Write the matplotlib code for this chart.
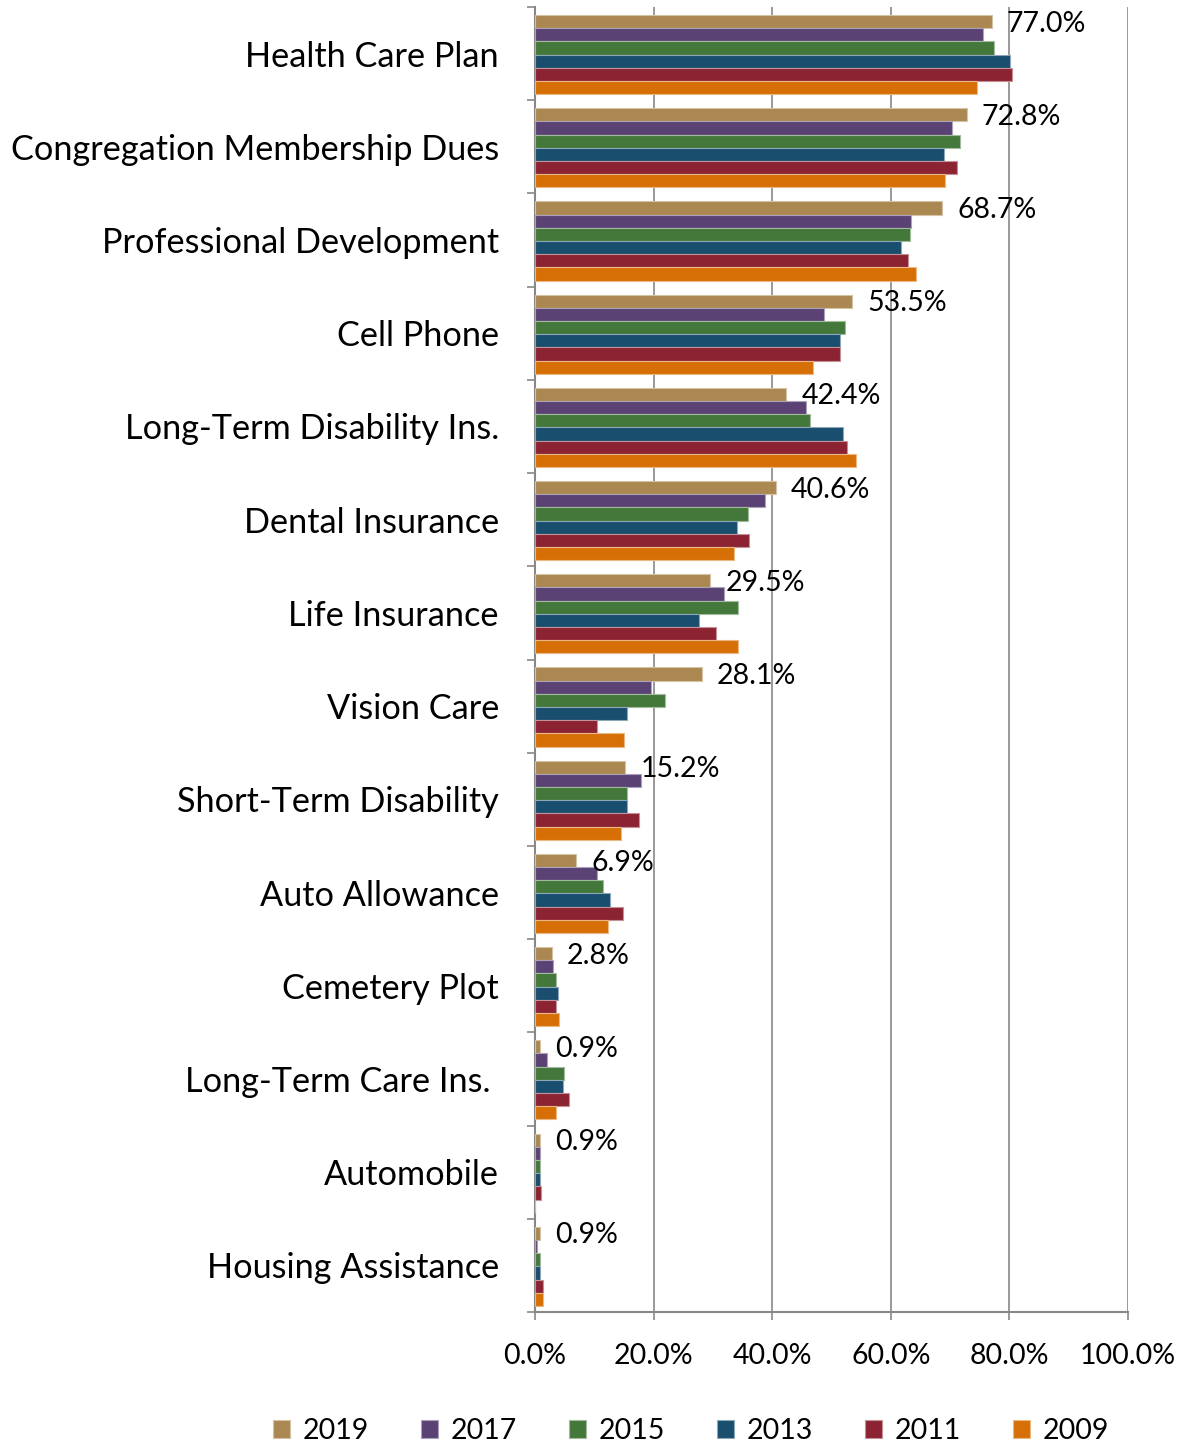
import matplotlib
matplotlib.use("Agg")
import matplotlib.pyplot as plt
import numpy as np
from matplotlib.colors import to_rgb

plt.rcParams['font.family'] = ['Lato', 'DejaVu Sans']

categories = ["Health Care Plan", "Congregation Membership Dues", "Professional Development",
              "Cell Phone", "Long-Term Disability Ins.", "Dental Insurance", "Life Insurance",
              "Vision Care", "Short-Term Disability", "Auto Allowance", "Cemetery Plot",
              "Long-Term Care Ins. ", "Automobile", "Housing Assistance"]
years = ["2019", "2017", "2015", "2013", "2011", "2009"]

v2019 = [77.0, 72.8, 68.7, 53.5, 42.4, 40.6, 29.5, 28.1, 15.2, 6.9, 2.8, 0.9, 0.9, 0.9]
v2017 = [75.6, 70.4, 63.4, 48.7, 45.7, 38.8, 31.8, 19.6, 17.9, 10.4, 3.0, 2.1, 0.8, 0.3]
v2015 = [77.4, 71.7, 63.2, 52.2, 46.4, 35.9, 34.2, 21.9, 15.5, 11.4, 3.6, 4.9, 0.8, 0.8]
v2013 = [80.1, 68.9, 61.7, 51.4, 52.0, 34.1, 27.7, 15.5, 15.5, 12.6, 3.9, 4.8, 0.9, 0.9]
v2011 = [80.5, 71.1, 62.9, 51.5, 52.6, 36.1, 30.5, 10.4, 17.5, 14.9, 3.6, 5.7, 1.0, 1.4]
v2009 = [74.5, 69.1, 64.2, 46.8, 54.2, 33.6, 34.2, 15.0, 14.5, 12.3, 4.1, 3.6, 0.0, 1.3]
series = [v2019, v2017, v2015, v2013, v2011, v2009]
colors = ['#AB8851', '#5A4374', '#44773A', '#194E6E', '#8B2332', '#D67006']

W, H = 1189, 1446
fig = plt.figure(figsize=(W / 100, H / 100), dpi=100)
ax = fig.add_axes([535 / W, 1 - 1312 / H, (1128 - 535) / W, (1312 - 7) / H])

n = len(categories)
y = np.arange(n)
h = 0.1416
grid_c = '#888888'
small = 20.5

for j, (vals, c) in enumerate(zip(series, colors)):
    rgb = np.array(to_rgb(c))
    edge = tuple(rgb * 0.5 + 0.5)
    ax.barh(y + (j - 2.5) * h + 0.01, vals, height=h, color=c, edgecolor=edge,
            linewidth=0.8, label=years[j], zorder=3)

for i, v in enumerate(v2019):
    ax.annotate(f"{v:.1f}%", (v, y[i] - 2.5 * h + 0.01), xytext=(11, -1.5),
                textcoords='offset points', va='center', ha='left', fontsize=small,
                color='#000000', zorder=4)

ax.set_xlim(0, 100)
ax.set_ylim(n - 0.5, -0.5)
ax.set_xticks(np.arange(0, 101, 20))
ax.set_xticklabels([f"{t:.1f}%" for t in np.arange(0, 101, 20)], fontsize=small)
ax.set_yticks(y)
ax.set_yticklabels(categories, fontsize=24.7)
ax.set_yticks(np.arange(-0.5, n, 1), minor=True)
ax.tick_params(axis='y', which='major', length=0, pad=26)
ax.tick_params(axis='y', which='minor', length=6, width=1.2, color=grid_c, direction='out')
ax.tick_params(axis='x', which='major', length=6, width=1.2, color=grid_c, direction='out', pad=16)
ax.xaxis.grid(True, color=grid_c, linewidth=1.2, zorder=0)
ax.set_axisbelow(True)
for s in ['top', 'right']:
    ax.spines[s].set_visible(False)
for s in ['left', 'bottom']:
    ax.spines[s].set_color(grid_c)
    ax.spines[s].set_linewidth(1.5)

fig.legend(loc='center', bbox_to_anchor=(0.581, 1 - 1431 / H), ncol=6, frameon=False,
           fontsize=small, handlelength=0.6, handleheight=0.6, handletextpad=0.45,
           columnspacing=1.82, borderaxespad=0)

fig.savefig("out.png", dpi=100)
